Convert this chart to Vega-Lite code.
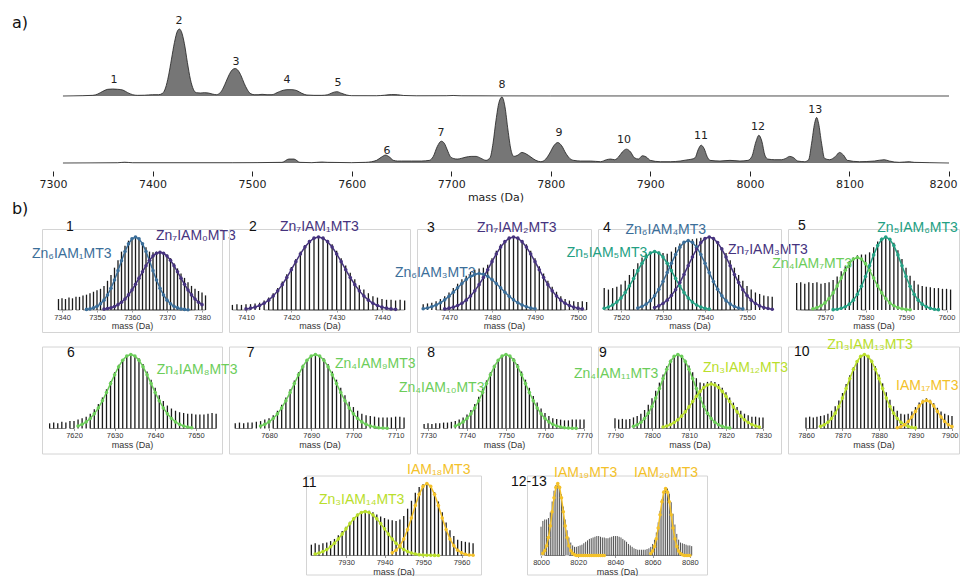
{
"$schema":"https://vega.github.io/schema/vega-lite/v6.json",
"padding":{"left":11,"top":14,"right":0,"bottom":0},
"background":"white",
"bounds":"full",
"spacing":-2,
"config":{
 "font":"Liberation Sans",
 "view":{"stroke":"#d4d4d4","strokeWidth":1},
 "axisX":{"grid":false,"domain":false,"ticks":true,"tickSize":2,"tickColor":"#9a9a9a","labelFont":"Liberation Sans","labelFontSize":7.5,"labelColor":"#333333","labelPadding":1,"titleFont":"Liberation Sans","titleFontSize":9,"titleFontWeight":"normal","titleColor":"#333333","titlePadding":1}
},
"datasets":{
"grp":[{"g":"Zn6IAM1","sp":"Zn6"},{"g":"Zn7IAM0","sp":"Zn7"},{"g":"Zn7IAM1","sp":"Zn7"},{"g":"Zn7IAM2","sp":"Zn7"},{"g":"Zn6IAM3","sp":"Zn6"},{"g":"Zn5IAM5","sp":"Zn5"},{"g":"Zn6IAM4","sp":"Zn6"},{"g":"Zn7IAM3","sp":"Zn7"},{"g":"Zn4IAM7","sp":"Zn4"},{"g":"Zn5IAM6","sp":"Zn5"},{"g":"Zn4IAM8","sp":"Zn4"},{"g":"Zn4IAM9","sp":"Zn4"},{"g":"Zn4IAM10","sp":"Zn4"},{"g":"Zn4IAM11","sp":"Zn4"},{"g":"Zn3IAM12","sp":"Zn3"},{"g":"Zn3IAM13","sp":"Zn3"},{"g":"IAM17","sp":"Zn0"},{"g":"Zn3IAM14","sp":"Zn3"},{"g":"IAM18","sp":"Zn0"},{"g":"IAM19","sp":"Zn0"},{"g":"IAM20","sp":"Zn0"}],
"a":[
{"t":"T","m":7310,"v":0},{"t":"T","m":7330,"v":0.005},{"t":"T","m":7340,"v":0.01},{"t":"T","m":7345,"v":0.03},{"t":"T","m":7350,"v":0.07},{"t":"T","m":7355,"v":0.1},{"t":"T","m":7360,"v":0.105},{"t":"T","m":7365,"v":0.1},{"t":"T","m":7370,"v":0.09},{"t":"T","m":7375,"v":0.05},{"t":"T","m":7380,"v":0.02},{"t":"T","m":7385,"v":0.01},{"t":"T","m":7392,"v":0.012},{"t":"T","m":7400,"v":0.02},{"t":"T","m":7406,"v":0.02},{"t":"T","m":7410,"v":0.04},{"t":"T","m":7413,"v":0.12},{"t":"T","m":7416,"v":0.3},{"t":"T","m":7419,"v":0.55},{"t":"T","m":7422,"v":0.8},{"t":"T","m":7425,"v":0.97},{"t":"T","m":7427,"v":1},{"t":"T","m":7429,"v":0.96},{"t":"T","m":7432,"v":0.78},{"t":"T","m":7435,"v":0.5},{"t":"T","m":7438,"v":0.25},{"t":"T","m":7441,"v":0.1},{"t":"T","m":7444,"v":0.05},{"t":"T","m":7448,"v":0.045},{"t":"T","m":7452,"v":0.05},{"t":"T","m":7456,"v":0.045},{"t":"T","m":7460,"v":0.03},{"t":"T","m":7464,"v":0.02},{"t":"T","m":7468,"v":0.05},{"t":"T","m":7471,"v":0.12},{"t":"T","m":7474,"v":0.22},{"t":"T","m":7477,"v":0.32},{"t":"T","m":7480,"v":0.39},{"t":"T","m":7483,"v":0.41},{"t":"T","m":7486,"v":0.38},{"t":"T","m":7489,"v":0.3},{"t":"T","m":7492,"v":0.19},{"t":"T","m":7495,"v":0.1},{"t":"T","m":7498,"v":0.04},{"t":"T","m":7502,"v":0.02},{"t":"T","m":7506,"v":0.02},{"t":"T","m":7510,"v":0.025},{"t":"T","m":7515,"v":0.02},{"t":"T","m":7520,"v":0.02},{"t":"T","m":7525,"v":0.05},{"t":"T","m":7530,"v":0.08},{"t":"T","m":7535,"v":0.095},{"t":"T","m":7540,"v":0.095},{"t":"T","m":7545,"v":0.08},{"t":"T","m":7550,"v":0.04},{"t":"T","m":7555,"v":0.015},{"t":"T","m":7562,"v":0.01},{"t":"T","m":7570,"v":0.01},{"t":"T","m":7576,"v":0.02},{"t":"T","m":7580,"v":0.045},{"t":"T","m":7585,"v":0.065},{"t":"T","m":7590,"v":0.04},{"t":"T","m":7595,"v":0.015},{"t":"T","m":7600,"v":0.005},{"t":"T","m":7625,"v":0.004},{"t":"T","m":7633,"v":0.012},{"t":"T","m":7640,"v":0.022},{"t":"T","m":7646,"v":0.02},{"t":"T","m":7652,"v":0.008},{"t":"T","m":7665,"v":0.003},{"t":"T","m":7695,"v":0.004},{"t":"T","m":7702,"v":0.008},{"t":"T","m":7710,"v":0.003},{"t":"T","m":7750,"v":0.002},{"t":"T","m":7800,"v":0.001},{"t":"T","m":8200,"v":0},
{"t":"B","m":7310,"v":0},{"t":"B","m":7365,"v":0.004},{"t":"B","m":7372,"v":0.012},{"t":"B","m":7380,"v":0.004},{"t":"B","m":7480,"v":0.004},{"t":"B","m":7530,"v":0.01},{"t":"B","m":7537,"v":0.06},{"t":"B","m":7542,"v":0.06},{"t":"B","m":7548,"v":0.01},{"t":"B","m":7560,"v":0.005},{"t":"B","m":7570,"v":0.015},{"t":"B","m":7576,"v":0.01},{"t":"B","m":7600,"v":0.005},{"t":"B","m":7614,"v":0.01},{"t":"B","m":7620,"v":0.02},{"t":"B","m":7625,"v":0.04},{"t":"B","m":7630,"v":0.09},{"t":"B","m":7634,"v":0.12},{"t":"B","m":7638,"v":0.09},{"t":"B","m":7642,"v":0.04},{"t":"B","m":7646,"v":0.03},{"t":"B","m":7650,"v":0.03},{"t":"B","m":7660,"v":0.03},{"t":"B","m":7670,"v":0.03},{"t":"B","m":7678,"v":0.04},{"t":"B","m":7682,"v":0.1},{"t":"B","m":7686,"v":0.25},{"t":"B","m":7690,"v":0.33},{"t":"B","m":7693,"v":0.3},{"t":"B","m":7696,"v":0.2},{"t":"B","m":7699,"v":0.1},{"t":"B","m":7702,"v":0.07},{"t":"B","m":7706,"v":0.06},{"t":"B","m":7710,"v":0.07},{"t":"B","m":7715,"v":0.09},{"t":"B","m":7720,"v":0.1},{"t":"B","m":7725,"v":0.1},{"t":"B","m":7730,"v":0.07},{"t":"B","m":7735,"v":0.04},{"t":"B","m":7739,"v":0.08},{"t":"B","m":7742,"v":0.3},{"t":"B","m":7745,"v":0.65},{"t":"B","m":7748,"v":0.92},{"t":"B","m":7751,"v":1},{"t":"B","m":7754,"v":0.85},{"t":"B","m":7757,"v":0.5},{"t":"B","m":7760,"v":0.2},{"t":"B","m":7763,"v":0.1},{"t":"B","m":7767,"v":0.12},{"t":"B","m":7771,"v":0.16},{"t":"B","m":7775,"v":0.14},{"t":"B","m":7780,"v":0.09},{"t":"B","m":7785,"v":0.04},{"t":"B","m":7790,"v":0.02},{"t":"B","m":7795,"v":0.06},{"t":"B","m":7799,"v":0.15},{"t":"B","m":7803,"v":0.26},{"t":"B","m":7807,"v":0.31},{"t":"B","m":7811,"v":0.26},{"t":"B","m":7815,"v":0.15},{"t":"B","m":7819,"v":0.07},{"t":"B","m":7823,"v":0.04},{"t":"B","m":7830,"v":0.03},{"t":"B","m":7840,"v":0.03},{"t":"B","m":7850,"v":0.02},{"t":"B","m":7856,"v":0.05},{"t":"B","m":7860,"v":0.06},{"t":"B","m":7864,"v":0.05},{"t":"B","m":7868,"v":0.09},{"t":"B","m":7872,"v":0.17},{"t":"B","m":7876,"v":0.21},{"t":"B","m":7880,"v":0.17},{"t":"B","m":7884,"v":0.08},{"t":"B","m":7888,"v":0.06},{"t":"B","m":7892,"v":0.11},{"t":"B","m":7896,"v":0.09},{"t":"B","m":7900,"v":0.04},{"t":"B","m":7910,"v":0.02},{"t":"B","m":7920,"v":0.02},{"t":"B","m":7930,"v":0.03},{"t":"B","m":7938,"v":0.05},{"t":"B","m":7942,"v":0.06},{"t":"B","m":7945,"v":0.08},{"t":"B","m":7948,"v":0.2},{"t":"B","m":7951,"v":0.27},{"t":"B","m":7954,"v":0.22},{"t":"B","m":7957,"v":0.1},{"t":"B","m":7960,"v":0.04},{"t":"B","m":7970,"v":0.03},{"t":"B","m":7980,"v":0.04},{"t":"B","m":7990,"v":0.03},{"t":"B","m":7998,"v":0.04},{"t":"B","m":8002,"v":0.1},{"t":"B","m":8006,"v":0.32},{"t":"B","m":8009,"v":0.42},{"t":"B","m":8012,"v":0.33},{"t":"B","m":8015,"v":0.12},{"t":"B","m":8018,"v":0.06},{"t":"B","m":8025,"v":0.05},{"t":"B","m":8032,"v":0.05},{"t":"B","m":8036,"v":0.07},{"t":"B","m":8040,"v":0.1},{"t":"B","m":8044,"v":0.08},{"t":"B","m":8048,"v":0.03},{"t":"B","m":8055,"v":0.02},{"t":"B","m":8059,"v":0.05},{"t":"B","m":8062,"v":0.3},{"t":"B","m":8065,"v":0.6},{"t":"B","m":8067,"v":0.69},{"t":"B","m":8069,"v":0.6},{"t":"B","m":8072,"v":0.3},{"t":"B","m":8075,"v":0.07},{"t":"B","m":8080,"v":0.05},{"t":"B","m":8086,"v":0.1},{"t":"B","m":8090,"v":0.16},{"t":"B","m":8094,"v":0.12},{"t":"B","m":8098,"v":0.04},{"t":"B","m":8110,"v":0.02},{"t":"B","m":8125,"v":0.03},{"t":"B","m":8135,"v":0.05},{"t":"B","m":8140,"v":0.03},{"t":"B","m":8150,"v":0.01},{"t":"B","m":8160,"v":0.02},{"t":"B","m":8165,"v":0.01},{"t":"B","m":8180,"v":0.005},{"t":"B","m":8200,"v":0}
],
"al":[
{"t":"T","n":"1","m":7361.3,"v":0.239},{"t":"T","n":"2","m":7426.6,"v":1.119},{"t":"T","n":"3","m":7483.8,"v":0.507},{"t":"T","n":"4","m":7535,"v":0.239},{"t":"T","n":"5","m":7586.3,"v":0.194},
{"t":"B","n":"6","m":7635.5,"v":0.182},{"t":"B","n":"7","m":7689.7,"v":0.455},{"t":"B","n":"8","m":7751,"v":1.182},{"t":"B","n":"9","m":7808.2,"v":0.455},{"t":"B","n":"10","m":7873.6,"v":0.348},{"t":"B","n":"11","m":7950.9,"v":0.409},{"t":"B","n":"12","m":8008.1,"v":0.545},{"t":"B","n":"13","m":8065.7,"v":0.803},
{"t":"S","n":"a)","m":7258.8,"v":1.09}
],
"ax":[{"m":7300,"m2":8200}],
"bl":[
{"p":1,"t":"1","sp":"num","m":7341.14,"y":1.137},{"p":1,"t":"Zn₆IAM₁MT3","sp":"Zn6","m":7331.43,"y":0.767},{"p":1,"t":"Zn₇IAM₀MT3","sp":"Zn7","m":7366.86,"y":1.014},{"p":1,"t":"b)","sp":"sec","m":7325.71,"y":1.384},
{"p":2,"t":"2","sp":"num","m":7410.66,"y":1.137},{"p":2,"t":"Zn₇IAM₁MT3","sp":"Zn7","m":7417.5,"y":1.137},
{"p":3,"t":"3","sp":"num","m":7464.88,"y":1.123},{"p":3,"t":"Zn₇IAM₂MT3","sp":"Zn7","m":7476.51,"y":1.123},{"p":3,"t":"Zn₆IAM₃MT3","sp":"Zn6","m":7457.44,"y":0.507},
{"p":4,"t":"4","sp":"num","m":7515.71,"y":1.123},{"p":4,"t":"Zn₆IAM₄MT3","sp":"Zn6","m":7521.07,"y":1.096},{"p":4,"t":"Zn₅IAM₅MT3","sp":"Zn5","m":7507.07,"y":0.774},{"p":4,"t":"Zn₇IAM₃MT3","sp":"Zn7","m":7545.48,"y":0.822},
{"p":5,"t":"5","sp":"num","m":7563.33,"y":1.155},{"p":5,"t":"Zn₅IAM₆MT3","sp":"Zn5","m":7582.91,"y":1.123},{"p":5,"t":"Zn₄IAM₇MT3","sp":"Zn4","m":7556.99,"y":0.63},
{"p":6,"t":"6","sp":"num","m":7618.28,"y":1.027},{"p":6,"t":"Zn₄IAM₈MT3","sp":"Zn4","m":7640.37,"y":0.797},
{"p":7,"t":"7","sp":"num","m":7674.72,"y":1.027},{"p":7,"t":"Zn₄IAM₉MT3","sp":"Zn4","m":7695.64,"y":0.878},
{"p":8,"t":"8","sp":"num","m":7729.82,"y":1.027},{"p":8,"t":"Zn₄IAM₁₀MT3","sp":"Zn4","m":7722.56,"y":0.554},
{"p":9,"t":"9","sp":"num","m":7785.68,"y":1.027},{"p":9,"t":"Zn₄IAM₁₁MT3","sp":"Zn4","m":7778.92,"y":0.73},{"p":9,"t":"Zn₃IAM₁₂MT3","sp":"Zn3","m":7813.78,"y":0.811},
{"p":10,"t":"10","sp":"num","m":7856.71,"y":1.04},{"p":10,"t":"Zn₃IAM₁₃MT3","sp":"Zn3","m":7865.84,"y":1.135},{"p":10,"t":"IAM₁₇MT3","sp":"Zn0","m":7884.66,"y":0.581},
{"p":11,"t":"11","sp":"num","m":7918.57,"y":1.0},{"p":11,"t":"Zn₃IAM₁₄MT3","sp":"Zn3","m":7922.99,"y":0.764},{"p":11,"t":"IAM₁₈MT3","sp":"Zn0","m":7945.84,"y":1.181},
{"p":12,"t":"12-13","sp":"num","m":7983.87,"y":1.014},{"p":12,"t":"IAM₁₉MT3","sp":"Zn0","m":8006.99,"y":1.139},{"p":12,"t":"IAM₂₀MT3","sp":"Zn0","m":8050.0,"y":1.139}
],
"b":[
{"p":1,"m":7339,"s":0.15},{"p":1,"m":7340,"s":0.16},{"p":1,"m":7341,"s":0.15},{"p":1,"m":7342,"s":0.17},{"p":1,"m":7343,"s":0.16},{"p":1,"m":7344,"s":0.18},{"p":1,"m":7345,"s":0.18},{"p":1,"m":7346,"s":0.2},
{"p":1,"m":7347,"s":0.21,"Zn6IAM1":0.008},{"p":1,"m":7348,"s":0.23,"Zn6IAM1":0.015},{"p":1,"m":7349,"s":0.25,"Zn6IAM1":0.029},{"p":1,"m":7350,"s":0.27,"Zn6IAM1":0.05},{"p":1,"m":7351,"s":0.29,"Zn6IAM1":0.085},
{"p":1,"m":7352,"s":0.33,"Zn6IAM1":0.135,"Zn7IAM0":0.012},{"p":1,"m":7353,"s":0.4,"Zn6IAM1":0.206,"Zn7IAM0":0.02},{"p":1,"m":7354,"s":0.48,"Zn6IAM1":0.298,"Zn7IAM0":0.031},{"p":1,"m":7355,"s":0.58,"Zn6IAM1":0.411,"Zn7IAM0":0.048},{"p":1,"m":7356,"s":0.68,"Zn6IAM1":0.539,"Zn7IAM0":0.073},{"p":1,"m":7357,"s":0.8,"Zn6IAM1":0.674,"Zn7IAM0":0.107},{"p":1,"m":7358,"s":0.88,"Zn6IAM1":0.801,"Zn7IAM0":0.151},{"p":1,"m":7359,"s":0.95,"Zn6IAM1":0.906,"Zn7IAM0":0.207},{"p":1,"m":7360,"s":0.99,"Zn6IAM1":0.976,"Zn7IAM0":0.274},{"p":1,"m":7361,"s":1,"Zn6IAM1":1,"Zn7IAM0":0.352},{"p":1,"m":7362,"s":0.98,"Zn6IAM1":0.976,"Zn7IAM0":0.436},{"p":1,"m":7363,"s":0.92,"Zn6IAM1":0.906,"Zn7IAM0":0.523},{"p":1,"m":7364,"s":0.86,"Zn6IAM1":0.801,"Zn7IAM0":0.607},{"p":1,"m":7365,"s":0.8,"Zn6IAM1":0.674,"Zn7IAM0":0.681},{"p":1,"m":7366,"s":0.79,"Zn6IAM1":0.539,"Zn7IAM0":0.739},{"p":1,"m":7367,"s":0.8,"Zn6IAM1":0.411,"Zn7IAM0":0.777},{"p":1,"m":7368,"s":0.8,"Zn6IAM1":0.298,"Zn7IAM0":0.79},{"p":1,"m":7369,"s":0.79,"Zn6IAM1":0.206,"Zn7IAM0":0.777},{"p":1,"m":7370,"s":0.76,"Zn6IAM1":0.135,"Zn7IAM0":0.739},{"p":1,"m":7371,"s":0.71,"Zn6IAM1":0.085,"Zn7IAM0":0.681},{"p":1,"m":7372,"s":0.64,"Zn6IAM1":0.05,"Zn7IAM0":0.607},{"p":1,"m":7373,"s":0.57,"Zn6IAM1":0.029,"Zn7IAM0":0.523},{"p":1,"m":7374,"s":0.5,"Zn6IAM1":0.015,"Zn7IAM0":0.436},{"p":1,"m":7375,"s":0.44,"Zn6IAM1":0.008,"Zn7IAM0":0.352},{"p":1,"m":7376,"s":0.38,"Zn6IAM1":0.004,"Zn7IAM0":0.274},{"p":1,"m":7377,"s":0.33,"Zn7IAM0":0.207},{"p":1,"m":7378,"s":0.29,"Zn7IAM0":0.151},{"p":1,"m":7379,"s":0.26,"Zn7IAM0":0.107},{"p":1,"m":7380,"s":0.24,"Zn7IAM0":0.073},{"p":1,"m":7381,"s":0.2},
{"p":2,"m":7407,"s":0.07},{"p":2,"m":7408,"s":0.08},{"p":2,"m":7409,"s":0.07},{"p":2,"m":7410,"s":0.08,"Zn7IAM1":0.015},{"p":2,"m":7411,"s":0.08,"Zn7IAM1":0.025},{"p":2,"m":7412,"s":0.09,"Zn7IAM1":0.039},{"p":2,"m":7413,"s":0.1,"Zn7IAM1":0.061},{"p":2,"m":7414,"s":0.13,"Zn7IAM1":0.092},{"p":2,"m":7415,"s":0.17,"Zn7IAM1":0.135},{"p":2,"m":7416,"s":0.23,"Zn7IAM1":0.191},{"p":2,"m":7417,"s":0.3,"Zn7IAM1":0.262},{"p":2,"m":7418,"s":0.39,"Zn7IAM1":0.347},{"p":2,"m":7419,"s":0.49,"Zn7IAM1":0.445},{"p":2,"m":7420,"s":0.59,"Zn7IAM1":0.552},{"p":2,"m":7421,"s":0.7,"Zn7IAM1":0.662},{"p":2,"m":7422,"s":0.8,"Zn7IAM1":0.768},{"p":2,"m":7423,"s":0.89,"Zn7IAM1":0.862},{"p":2,"m":7424,"s":0.96,"Zn7IAM1":0.936},{"p":2,"m":7425,"s":0.99,"Zn7IAM1":0.984},{"p":2,"m":7426,"s":1,"Zn7IAM1":1},{"p":2,"m":7427,"s":0.99,"Zn7IAM1":0.984},{"p":2,"m":7428,"s":0.96,"Zn7IAM1":0.936},{"p":2,"m":7429,"s":0.9,"Zn7IAM1":0.862},{"p":2,"m":7430,"s":0.81,"Zn7IAM1":0.768},{"p":2,"m":7431,"s":0.71,"Zn7IAM1":0.662},{"p":2,"m":7432,"s":0.61,"Zn7IAM1":0.552},{"p":2,"m":7433,"s":0.51,"Zn7IAM1":0.445},{"p":2,"m":7434,"s":0.42,"Zn7IAM1":0.347},{"p":2,"m":7435,"s":0.34,"Zn7IAM1":0.262},{"p":2,"m":7436,"s":0.28,"Zn7IAM1":0.191},{"p":2,"m":7437,"s":0.23,"Zn7IAM1":0.135},{"p":2,"m":7438,"s":0.19,"Zn7IAM1":0.092},{"p":2,"m":7439,"s":0.17,"Zn7IAM1":0.061},{"p":2,"m":7440,"s":0.15,"Zn7IAM1":0.039},{"p":2,"m":7441,"s":0.14,"Zn7IAM1":0.025},{"p":2,"m":7442,"s":0.14,"Zn7IAM1":0.015},{"p":2,"m":7443,"s":0.13,"Zn7IAM1":0.009},{"p":2,"m":7444,"s":0.14},{"p":2,"m":7445,"s":0.13},
{"p":3,"m":7464,"s":0.08,"Zn6IAM3":0.017},{"p":3,"m":7465,"s":0.09,"Zn6IAM3":0.028},{"p":3,"m":7466,"s":0.1,"Zn6IAM3":0.045},{"p":3,"m":7467,"s":0.12,"Zn6IAM3":0.068},{"p":3,"m":7468,"s":0.15,"Zn6IAM3":0.099},{"p":3,"m":7469,"s":0.19,"Zn6IAM3":0.139,"Zn7IAM2":0.015},{"p":3,"m":7470,"s":0.24,"Zn6IAM3":0.188,"Zn7IAM2":0.025},{"p":3,"m":7471,"s":0.3,"Zn6IAM3":0.244,"Zn7IAM2":0.039},{"p":3,"m":7472,"s":0.36,"Zn6IAM3":0.304,"Zn7IAM2":0.061},{"p":3,"m":7473,"s":0.42,"Zn6IAM3":0.363,"Zn7IAM2":0.092},{"p":3,"m":7474,"s":0.47,"Zn6IAM3":0.418,"Zn7IAM2":0.135},{"p":3,"m":7475,"s":0.52,"Zn6IAM3":0.462,"Zn7IAM2":0.191},{"p":3,"m":7476,"s":0.55,"Zn6IAM3":0.49,"Zn7IAM2":0.262},{"p":3,"m":7477,"s":0.57,"Zn6IAM3":0.5,"Zn7IAM2":0.347},{"p":3,"m":7478,"s":0.58,"Zn6IAM3":0.49,"Zn7IAM2":0.445},{"p":3,"m":7479,"s":0.62,"Zn6IAM3":0.462,"Zn7IAM2":0.552},{"p":3,"m":7480,"s":0.71,"Zn6IAM3":0.418,"Zn7IAM2":0.662},{"p":3,"m":7481,"s":0.81,"Zn6IAM3":0.363,"Zn7IAM2":0.768},{"p":3,"m":7482,"s":0.9,"Zn6IAM3":0.304,"Zn7IAM2":0.862},{"p":3,"m":7483,"s":0.96,"Zn6IAM3":0.244,"Zn7IAM2":0.936},{"p":3,"m":7484,"s":0.99,"Zn6IAM3":0.188,"Zn7IAM2":0.984},{"p":3,"m":7485,"s":1,"Zn6IAM3":0.139,"Zn7IAM2":1},{"p":3,"m":7486,"s":0.99,"Zn6IAM3":0.099,"Zn7IAM2":0.984},{"p":3,"m":7487,"s":0.96,"Zn6IAM3":0.068,"Zn7IAM2":0.936},{"p":3,"m":7488,"s":0.9,"Zn6IAM3":0.045,"Zn7IAM2":0.862},{"p":3,"m":7489,"s":0.81,"Zn6IAM3":0.028,"Zn7IAM2":0.768},{"p":3,"m":7490,"s":0.71,"Zn6IAM3":0.017,"Zn7IAM2":0.662},{"p":3,"m":7491,"s":0.6,"Zn7IAM2":0.552},{"p":3,"m":7492,"s":0.5,"Zn7IAM2":0.445},{"p":3,"m":7493,"s":0.4,"Zn7IAM2":0.347},{"p":3,"m":7494,"s":0.32,"Zn7IAM2":0.262},{"p":3,"m":7495,"s":0.25,"Zn7IAM2":0.191},{"p":3,"m":7496,"s":0.19,"Zn7IAM2":0.135},{"p":3,"m":7497,"s":0.15,"Zn7IAM2":0.092},{"p":3,"m":7498,"s":0.13,"Zn7IAM2":0.061},{"p":3,"m":7499,"s":0.12,"Zn7IAM2":0.039},{"p":3,"m":7500,"s":0.11,"Zn7IAM2":0.025},{"p":3,"m":7501,"s":0.12,"Zn7IAM2":0.015},{"p":3,"m":7502,"s":0.11},
{"p":4,"m":7516,"s":0.3,"Zn5IAM5":0.023},{"p":4,"m":7517,"s":0.28,"Zn5IAM5":0.04},{"p":4,"m":7518,"s":0.3,"Zn5IAM5":0.068},{"p":4,"m":7519,"s":0.32,"Zn5IAM5":0.108},{"p":4,"m":7520,"s":0.35,"Zn5IAM5":0.165},{"p":4,"m":7521,"s":0.4,"Zn5IAM5":0.238},{"p":4,"m":7522,"s":0.48,"Zn5IAM5":0.329},{"p":4,"m":7523,"s":0.56,"Zn5IAM5":0.431},{"p":4,"m":7524,"s":0.64,"Zn5IAM5":0.539,"Zn6IAM4":0.028},{"p":4,"m":7525,"s":0.72,"Zn5IAM5":0.641,"Zn6IAM4":0.048},{"p":4,"m":7526,"s":0.77,"Zn5IAM5":0.725,"Zn6IAM4":0.081},{"p":4,"m":7527,"s":0.8,"Zn5IAM5":0.781,"Zn6IAM4":0.128},{"p":4,"m":7528,"s":0.8,"Zn5IAM5":0.8,"Zn6IAM4":0.196,"Zn7IAM3":0.034},{"p":4,"m":7529,"s":0.8,"Zn5IAM5":0.781,"Zn6IAM4":0.283,"Zn7IAM3":0.056},{"p":4,"m":7530,"s":0.78,"Zn5IAM5":0.725,"Zn6IAM4":0.39,"Zn7IAM3":0.089},{"p":4,"m":7531,"s":0.77,"Zn5IAM5":0.641,"Zn6IAM4":0.512,"Zn7IAM3":0.135},{"p":4,"m":7532,"s":0.8,"Zn5IAM5":0.539,"Zn6IAM4":0.64,"Zn7IAM3":0.198},{"p":4,"m":7533,"s":0.86,"Zn5IAM5":0.431,"Zn6IAM4":0.761,"Zn7IAM3":0.278},{"p":4,"m":7534,"s":0.91,"Zn5IAM5":0.329,"Zn6IAM4":0.861,"Zn7IAM3":0.375},{"p":4,"m":7535,"s":0.94,"Zn5IAM5":0.238,"Zn6IAM4":0.927,"Zn7IAM3":0.487},{"p":4,"m":7536,"s":0.96,"Zn5IAM5":0.165,"Zn6IAM4":0.95,"Zn7IAM3":0.607},{"p":4,"m":7537,"s":0.97,"Zn5IAM5":0.108,"Zn6IAM4":0.927,"Zn7IAM3":0.726},{"p":4,"m":7538,"s":0.98,"Zn5IAM5":0.068,"Zn6IAM4":0.861,"Zn7IAM3":0.835},{"p":4,"m":7539,"s":0.99,"Zn5IAM5":0.04,"Zn6IAM4":0.761,"Zn7IAM3":0.923},{"p":4,"m":7540,"s":1,"Zn5IAM5":0.023,"Zn6IAM4":0.64,"Zn7IAM3":0.98},{"p":4,"m":7541,"s":1,"Zn5IAM5":0.012,"Zn6IAM4":0.512,"Zn7IAM3":1},{"p":4,"m":7542,"s":0.98,"Zn6IAM4":0.39,"Zn7IAM3":0.98},{"p":4,"m":7543,"s":0.93,"Zn6IAM4":0.283,"Zn7IAM3":0.923},{"p":4,"m":7544,"s":0.86,"Zn6IAM4":0.196,"Zn7IAM3":0.835},{"p":4,"m":7545,"s":0.78,"Zn6IAM4":0.128,"Zn7IAM3":0.726},{"p":4,"m":7546,"s":0.68,"Zn6IAM4":0.081,"Zn7IAM3":0.607},{"p":4,"m":7547,"s":0.58,"Zn6IAM4":0.048,"Zn7IAM3":0.487},{"p":4,"m":7548,"s":0.48,"Zn6IAM4":0.028,"Zn7IAM3":0.375},{"p":4,"m":7549,"s":0.4,"Zn6IAM4":0.015,"Zn7IAM3":0.278},{"p":4,"m":7550,"s":0.33,"Zn7IAM3":0.198},{"p":4,"m":7551,"s":0.28,"Zn7IAM3":0.135},{"p":4,"m":7552,"s":0.24,"Zn7IAM3":0.089},{"p":4,"m":7553,"s":0.22,"Zn7IAM3":0.056},{"p":4,"m":7554,"s":0.2,"Zn7IAM3":0.034},{"p":4,"m":7555,"s":0.19,"Zn7IAM3":0.02},{"p":4,"m":7556,"s":0.18,"Zn7IAM3":0.011},
{"p":5,"m":7563,"s":0.37},{"p":5,"m":7564,"s":0.38},{"p":5,"m":7565,"s":0.36},{"p":5,"m":7566,"s":0.38},{"p":5,"m":7567,"s":0.37,"Zn4IAM7":0.017},{"p":5,"m":7568,"s":0.38,"Zn4IAM7":0.032},{"p":5,"m":7569,"s":0.36,"Zn4IAM7":0.058},{"p":5,"m":7570,"s":0.37,"Zn4IAM7":0.097},{"p":5,"m":7571,"s":0.38,"Zn4IAM7":0.156},{"p":5,"m":7572,"s":0.41,"Zn4IAM7":0.234,"Zn5IAM6":0.005},{"p":5,"m":7573,"s":0.46,"Zn4IAM7":0.33,"Zn5IAM6":0.011},{"p":5,"m":7574,"s":0.53,"Zn4IAM7":0.437,"Zn5IAM6":0.023},{"p":5,"m":7575,"s":0.6,"Zn4IAM7":0.544,"Zn5IAM6":0.044},{"p":5,"m":7576,"s":0.67,"Zn4IAM7":0.635,"Zn5IAM6":0.08},{"p":5,"m":7577,"s":0.72,"Zn4IAM7":0.698,"Zn5IAM6":0.135},{"p":5,"m":7578,"s":0.75,"Zn4IAM7":0.72,"Zn5IAM6":0.216},{"p":5,"m":7579,"s":0.76,"Zn4IAM7":0.698,"Zn5IAM6":0.325},{"p":5,"m":7580,"s":0.76,"Zn4IAM7":0.635,"Zn5IAM6":0.458},{"p":5,"m":7581,"s":0.79,"Zn4IAM7":0.544,"Zn5IAM6":0.607},{"p":5,"m":7582,"s":0.86,"Zn4IAM7":0.437,"Zn5IAM6":0.755},{"p":5,"m":7583,"s":0.94,"Zn4IAM7":0.33,"Zn5IAM6":0.882},{"p":5,"m":7584,"s":0.99,"Zn4IAM7":0.234,"Zn5IAM6":0.969},{"p":5,"m":7585,"s":1,"Zn4IAM7":0.156,"Zn5IAM6":1},{"p":5,"m":7586,"s":0.98,"Zn4IAM7":0.097,"Zn5IAM6":0.969},{"p":5,"m":7587,"s":0.92,"Zn4IAM7":0.058,"Zn5IAM6":0.882},{"p":5,"m":7588,"s":0.82,"Zn4IAM7":0.032,"Zn5IAM6":0.755},{"p":5,"m":7589,"s":0.7,"Zn4IAM7":0.017,"Zn5IAM6":0.607},{"p":5,"m":7590,"s":0.58,"Zn4IAM7":0.008,"Zn5IAM6":0.458},{"p":5,"m":7591,"s":0.47,"Zn4IAM7":0.004,"Zn5IAM6":0.325},{"p":5,"m":7592,"s":0.4,"Zn5IAM6":0.216},{"p":5,"m":7593,"s":0.35,"Zn5IAM6":0.135},{"p":5,"m":7594,"s":0.33,"Zn5IAM6":0.08},{"p":5,"m":7595,"s":0.32,"Zn5IAM6":0.044},{"p":5,"m":7596,"s":0.31,"Zn5IAM6":0.023},{"p":5,"m":7597,"s":0.3,"Zn5IAM6":0.011},{"p":5,"m":7598,"s":0.3,"Zn5IAM6":0.005},{"p":5,"m":7599,"s":0.29},{"p":5,"m":7600,"s":0.29},{"p":5,"m":7601,"s":0.28},
{"p":6,"m":7614,"s":0.07},{"p":6,"m":7615,"s":0.08},{"p":6,"m":7616,"s":0.07},{"p":6,"m":7617,"s":0.09},{"p":6,"m":7618,"s":0.08},{"p":6,"m":7619,"s":0.1},{"p":6,"m":7620,"s":0.1},{"p":6,"m":7621,"s":0.12,"Zn4IAM8":0.034},{"p":6,"m":7622,"s":0.14,"Zn4IAM8":0.056},{"p":6,"m":7623,"s":0.16,"Zn4IAM8":0.089},{"p":6,"m":7624,"s":0.2,"Zn4IAM8":0.135},{"p":6,"m":7625,"s":0.26,"Zn4IAM8":0.198},{"p":6,"m":7626,"s":0.33,"Zn4IAM8":0.278},{"p":6,"m":7627,"s":0.42,"Zn4IAM8":0.375},{"p":6,"m":7628,"s":0.53,"Zn4IAM8":0.487},{"p":6,"m":7629,"s":0.64,"Zn4IAM8":0.607},{"p":6,"m":7630,"s":0.76,"Zn4IAM8":0.726},{"p":6,"m":7631,"s":0.86,"Zn4IAM8":0.835},{"p":6,"m":7632,"s":0.94,"Zn4IAM8":0.923},{"p":6,"m":7633,"s":0.99,"Zn4IAM8":0.98},{"p":6,"m":7634,"s":1,"Zn4IAM8":1},{"p":6,"m":7635,"s":0.99,"Zn4IAM8":0.98},{"p":6,"m":7636,"s":0.95,"Zn4IAM8":0.923},{"p":6,"m":7637,"s":0.87,"Zn4IAM8":0.835},{"p":6,"m":7638,"s":0.77,"Zn4IAM8":0.726},{"p":6,"m":7639,"s":0.66,"Zn4IAM8":0.607},{"p":6,"m":7640,"s":0.55,"Zn4IAM8":0.487},{"p":6,"m":7641,"s":0.45,"Zn4IAM8":0.375},{"p":6,"m":7642,"s":0.37,"Zn4IAM8":0.278},{"p":6,"m":7643,"s":0.31,"Zn4IAM8":0.198},{"p":6,"m":7644,"s":0.27,"Zn4IAM8":0.135},{"p":6,"m":7645,"s":0.24,"Zn4IAM8":0.089},{"p":6,"m":7646,"s":0.22,"Zn4IAM8":0.056},{"p":6,"m":7647,"s":0.21,"Zn4IAM8":0.034},{"p":6,"m":7648,"s":0.2,"Zn4IAM8":0.02},{"p":6,"m":7649,"s":0.2,"Zn4IAM8":0.011},{"p":6,"m":7650,"s":0.19},{"p":6,"m":7651,"s":0.19},{"p":6,"m":7652,"s":0.19},{"p":6,"m":7653,"s":0.2},{"p":6,"m":7654,"s":0.21},{"p":6,"m":7655,"s":0.2},
{"p":7,"m":7672,"s":0.07},{"p":7,"m":7673,"s":0.08},{"p":7,"m":7674,"s":0.07},{"p":7,"m":7675,"s":0.08},{"p":7,"m":7676,"s":0.08},{"p":7,"m":7677,"s":0.09},{"p":7,"m":7678,"s":0.1,"Zn4IAM9":0.034},{"p":7,"m":7679,"s":0.12,"Zn4IAM9":0.056},{"p":7,"m":7680,"s":0.14,"Zn4IAM9":0.089},{"p":7,"m":7681,"s":0.18,"Zn4IAM9":0.135},{"p":7,"m":7682,"s":0.24,"Zn4IAM9":0.198},{"p":7,"m":7683,"s":0.32,"Zn4IAM9":0.278},{"p":7,"m":7684,"s":0.42,"Zn4IAM9":0.375},{"p":7,"m":7685,"s":0.53,"Zn4IAM9":0.487},{"p":7,"m":7686,"s":0.65,"Zn4IAM9":0.607},{"p":7,"m":7687,"s":0.76,"Zn4IAM9":0.726},{"p":7,"m":7688,"s":0.86,"Zn4IAM9":0.835},{"p":7,"m":7689,"s":0.94,"Zn4IAM9":0.923},{"p":7,"m":7690,"s":0.99,"Zn4IAM9":0.98},{"p":7,"m":7691,"s":1,"Zn4IAM9":1},{"p":7,"m":7692,"s":0.99,"Zn4IAM9":0.98},{"p":7,"m":7693,"s":0.95,"Zn4IAM9":0.923},{"p":7,"m":7694,"s":0.87,"Zn4IAM9":0.835},{"p":7,"m":7695,"s":0.77,"Zn4IAM9":0.726},{"p":7,"m":7696,"s":0.66,"Zn4IAM9":0.607},{"p":7,"m":7697,"s":0.55,"Zn4IAM9":0.487},{"p":7,"m":7698,"s":0.45,"Zn4IAM9":0.375},{"p":7,"m":7699,"s":0.36,"Zn4IAM9":0.278},{"p":7,"m":7700,"s":0.29,"Zn4IAM9":0.198},{"p":7,"m":7701,"s":0.24,"Zn4IAM9":0.135},{"p":7,"m":7702,"s":0.2,"Zn4IAM9":0.089},{"p":7,"m":7703,"s":0.18,"Zn4IAM9":0.056},{"p":7,"m":7704,"s":0.17,"Zn4IAM9":0.034},{"p":7,"m":7705,"s":0.16,"Zn4IAM9":0.02},{"p":7,"m":7706,"s":0.15,"Zn4IAM9":0.011},{"p":7,"m":7707,"s":0.15,"Zn4IAM9":0.006},{"p":7,"m":7708,"s":0.15,"Zn4IAM9":0.003},{"p":7,"m":7709,"s":0.15},{"p":7,"m":7710,"s":0.16},{"p":7,"m":7711,"s":0.16},{"p":7,"m":7712,"s":0.15},
{"p":8,"m":7729,"s":0.06},{"p":8,"m":7730,"s":0.07},{"p":8,"m":7731,"s":0.06},{"p":8,"m":7732,"s":0.07},{"p":8,"m":7733,"s":0.07},{"p":8,"m":7734,"s":0.08},{"p":8,"m":7735,"s":0.08},{"p":8,"m":7736,"s":0.09},{"p":8,"m":7737,"s":0.1,"Zn4IAM10":0.034},{"p":8,"m":7738,"s":0.12,"Zn4IAM10":0.056},{"p":8,"m":7739,"s":0.15,"Zn4IAM10":0.089},{"p":8,"m":7740,"s":0.19,"Zn4IAM10":0.135},{"p":8,"m":7741,"s":0.25,"Zn4IAM10":0.198},{"p":8,"m":7742,"s":0.33,"Zn4IAM10":0.278},{"p":8,"m":7743,"s":0.43,"Zn4IAM10":0.375},{"p":8,"m":7744,"s":0.54,"Zn4IAM10":0.487},{"p":8,"m":7745,"s":0.65,"Zn4IAM10":0.607},{"p":8,"m":7746,"s":0.76,"Zn4IAM10":0.726},{"p":8,"m":7747,"s":0.86,"Zn4IAM10":0.835},{"p":8,"m":7748,"s":0.94,"Zn4IAM10":0.923},{"p":8,"m":7749,"s":0.99,"Zn4IAM10":0.98},{"p":8,"m":7750,"s":1,"Zn4IAM10":1},{"p":8,"m":7751,"s":0.99,"Zn4IAM10":0.98},{"p":8,"m":7752,"s":0.95,"Zn4IAM10":0.923},{"p":8,"m":7753,"s":0.87,"Zn4IAM10":0.835},{"p":8,"m":7754,"s":0.77,"Zn4IAM10":0.726},{"p":8,"m":7755,"s":0.66,"Zn4IAM10":0.607},{"p":8,"m":7756,"s":0.55,"Zn4IAM10":0.487},{"p":8,"m":7757,"s":0.44,"Zn4IAM10":0.375},{"p":8,"m":7758,"s":0.35,"Zn4IAM10":0.278},{"p":8,"m":7759,"s":0.27,"Zn4IAM10":0.198},{"p":8,"m":7760,"s":0.21,"Zn4IAM10":0.135},{"p":8,"m":7761,"s":0.17,"Zn4IAM10":0.089},{"p":8,"m":7762,"s":0.14,"Zn4IAM10":0.056},{"p":8,"m":7763,"s":0.13,"Zn4IAM10":0.034},{"p":8,"m":7764,"s":0.12,"Zn4IAM10":0.02},{"p":8,"m":7765,"s":0.11,"Zn4IAM10":0.011},{"p":8,"m":7766,"s":0.11,"Zn4IAM10":0.006},{"p":8,"m":7767,"s":0.12,"Zn4IAM10":0.003},{"p":8,"m":7768,"s":0.12,"Zn4IAM10":0.002},{"p":8,"m":7769,"s":0.12},{"p":8,"m":7770,"s":0.12},
{"p":9,"m":7790,"s":0.14},{"p":9,"m":7791,"s":0.12},{"p":9,"m":7792,"s":0.13},{"p":9,"m":7793,"s":0.12},{"p":9,"m":7794,"s":0.13},{"p":9,"m":7795,"s":0.15,"Zn4IAM11":0.029},{"p":9,"m":7796,"s":0.17,"Zn4IAM11":0.05},{"p":9,"m":7797,"s":0.2,"Zn4IAM11":0.085},{"p":9,"m":7798,"s":0.25,"Zn4IAM11":0.135},{"p":9,"m":7799,"s":0.32,"Zn4IAM11":0.206},{"p":9,"m":7800,"s":0.41,"Zn4IAM11":0.298},{"p":9,"m":7801,"s":0.51,"Zn4IAM11":0.411},{"p":9,"m":7802,"s":0.62,"Zn4IAM11":0.539},{"p":9,"m":7803,"s":0.73,"Zn4IAM11":0.674,"Zn3IAM12":0.02},{"p":9,"m":7804,"s":0.84,"Zn4IAM11":0.801,"Zn3IAM12":0.034},{"p":9,"m":7805,"s":0.93,"Zn4IAM11":0.906,"Zn3IAM12":0.053},{"p":9,"m":7806,"s":0.98,"Zn4IAM11":0.976,"Zn3IAM12":0.081},{"p":9,"m":7807,"s":1,"Zn4IAM11":1,"Zn3IAM12":0.119},{"p":9,"m":7808,"s":0.98,"Zn4IAM11":0.976,"Zn3IAM12":0.167},{"p":9,"m":7809,"s":0.93,"Zn4IAM11":0.906,"Zn3IAM12":0.225},{"p":9,"m":7810,"s":0.85,"Zn4IAM11":0.801,"Zn3IAM12":0.292},{"p":9,"m":7811,"s":0.76,"Zn4IAM11":0.674,"Zn3IAM12":0.364},{"p":9,"m":7812,"s":0.68,"Zn4IAM11":0.539,"Zn3IAM12":0.436},{"p":9,"m":7813,"s":0.62,"Zn4IAM11":0.411,"Zn3IAM12":0.501},{"p":9,"m":7814,"s":0.61,"Zn4IAM11":0.298,"Zn3IAM12":0.554},{"p":9,"m":7815,"s":0.63,"Zn4IAM11":0.206,"Zn3IAM12":0.588},{"p":9,"m":7816,"s":0.64,"Zn4IAM11":0.135,"Zn3IAM12":0.6},{"p":9,"m":7817,"s":0.63,"Zn4IAM11":0.085,"Zn3IAM12":0.588},{"p":9,"m":7818,"s":0.6,"Zn4IAM11":0.05,"Zn3IAM12":0.554},{"p":9,"m":7819,"s":0.55,"Zn4IAM11":0.029,"Zn3IAM12":0.501},{"p":9,"m":7820,"s":0.49,"Zn4IAM11":0.015,"Zn3IAM12":0.436},{"p":9,"m":7821,"s":0.42,"Zn4IAM11":0.008,"Zn3IAM12":0.364},{"p":9,"m":7822,"s":0.35,"Zn3IAM12":0.292},{"p":9,"m":7823,"s":0.29,"Zn3IAM12":0.225},{"p":9,"m":7824,"s":0.24,"Zn3IAM12":0.167},{"p":9,"m":7825,"s":0.2,"Zn3IAM12":0.119},{"p":9,"m":7826,"s":0.18,"Zn3IAM12":0.081},{"p":9,"m":7827,"s":0.16,"Zn3IAM12":0.053},{"p":9,"m":7828,"s":0.16,"Zn3IAM12":0.034},{"p":9,"m":7829,"s":0.15,"Zn3IAM12":0.02},{"p":9,"m":7830,"s":0.15},
{"p":10,"m":7860,"s":0.15},{"p":10,"m":7861,"s":0.16},{"p":10,"m":7862,"s":0.15},{"p":10,"m":7863,"s":0.16},{"p":10,"m":7864,"s":0.17,"Zn3IAM13":0.029},{"p":10,"m":7865,"s":0.18,"Zn3IAM13":0.05},{"p":10,"m":7866,"s":0.2,"Zn3IAM13":0.085},{"p":10,"m":7867,"s":0.24,"Zn3IAM13":0.135},{"p":10,"m":7868,"s":0.3,"Zn3IAM13":0.206},{"p":10,"m":7869,"s":0.38,"Zn3IAM13":0.298},{"p":10,"m":7870,"s":0.48,"Zn3IAM13":0.411},{"p":10,"m":7871,"s":0.6,"Zn3IAM13":0.539},{"p":10,"m":7872,"s":0.72,"Zn3IAM13":0.674},{"p":10,"m":7873,"s":0.83,"Zn3IAM13":0.801},{"p":10,"m":7874,"s":0.92,"Zn3IAM13":0.906},{"p":10,"m":7875,"s":0.98,"Zn3IAM13":0.976},{"p":10,"m":7876,"s":1,"Zn3IAM13":1},{"p":10,"m":7877,"s":0.98,"Zn3IAM13":0.976},{"p":10,"m":7878,"s":0.93,"Zn3IAM13":0.906},{"p":10,"m":7879,"s":0.84,"Zn3IAM13":0.801},{"p":10,"m":7880,"s":0.73,"Zn3IAM13":0.674},{"p":10,"m":7881,"s":0.61,"Zn3IAM13":0.539},{"p":10,"m":7882,"s":0.49,"Zn3IAM13":0.411},{"p":10,"m":7883,"s":0.39,"Zn3IAM13":0.298},{"p":10,"m":7884,"s":0.3,"Zn3IAM13":0.206},{"p":10,"m":7885,"s":0.24,"Zn3IAM13":0.135,"IAM17":0.011},{"p":10,"m":7886,"s":0.2,"Zn3IAM13":0.085,"IAM17":0.025},{"p":10,"m":7887,"s":0.19,"Zn3IAM13":0.05,"IAM17":0.051},{"p":10,"m":7888,"s":0.2,"Zn3IAM13":0.029,"IAM17":0.095},{"p":10,"m":7889,"s":0.23,"Zn3IAM13":0.015,"IAM17":0.156},{"p":10,"m":7890,"s":0.29,"Zn3IAM13":0.008,"IAM17":0.231},{"p":10,"m":7891,"s":0.35,"IAM17":0.304},{"p":10,"m":7892,"s":0.39,"IAM17":0.36},{"p":10,"m":7893,"s":0.41,"IAM17":0.38},{"p":10,"m":7894,"s":0.39,"IAM17":0.36},{"p":10,"m":7895,"s":0.34,"IAM17":0.304},{"p":10,"m":7896,"s":0.28,"IAM17":0.231},{"p":10,"m":7897,"s":0.23,"IAM17":0.156},{"p":10,"m":7898,"s":0.2,"IAM17":0.095},{"p":10,"m":7899,"s":0.18,"IAM17":0.051},{"p":10,"m":7900,"s":0.17,"IAM17":0.025},
{"p":11,"m":7921,"s":0.15},{"p":11,"m":7922,"s":0.17,"Zn3IAM14":0.021},{"p":11,"m":7923,"s":0.15,"Zn3IAM14":0.034},{"p":11,"m":7924,"s":0.17,"Zn3IAM14":0.054},{"p":11,"m":7925,"s":0.18,"Zn3IAM14":0.082},{"p":11,"m":7926,"s":0.2,"Zn3IAM14":0.121},{"p":11,"m":7927,"s":0.23,"Zn3IAM14":0.17},{"p":11,"m":7928,"s":0.28,"Zn3IAM14":0.229},{"p":11,"m":7929,"s":0.34,"Zn3IAM14":0.297},{"p":11,"m":7930,"s":0.4,"Zn3IAM14":0.37},{"p":11,"m":7931,"s":0.47,"Zn3IAM14":0.443},{"p":11,"m":7932,"s":0.53,"Zn3IAM14":0.509},{"p":11,"m":7933,"s":0.58,"Zn3IAM14":0.563},{"p":11,"m":7934,"s":0.61,"Zn3IAM14":0.598},{"p":11,"m":7935,"s":0.62,"Zn3IAM14":0.61},{"p":11,"m":7936,"s":0.62,"Zn3IAM14":0.598},{"p":11,"m":7937,"s":0.6,"Zn3IAM14":0.563},{"p":11,"m":7938,"s":0.57,"Zn3IAM14":0.509},{"p":11,"m":7939,"s":0.54,"Zn3IAM14":0.443},{"p":11,"m":7940,"s":0.52,"Zn3IAM14":0.37},{"p":11,"m":7941,"s":0.5,"Zn3IAM14":0.297},{"p":11,"m":7942,"s":0.49,"Zn3IAM14":0.229,"IAM18":0.037},{"p":11,"m":7943,"s":0.48,"Zn3IAM14":0.17,"IAM18":0.073},{"p":11,"m":7944,"s":0.5,"Zn3IAM14":0.121,"IAM18":0.135},{"p":11,"m":7945,"s":0.55,"Zn3IAM14":0.082,"IAM18":0.23},{"p":11,"m":7946,"s":0.65,"Zn3IAM14":0.054,"IAM18":0.36},{"p":11,"m":7947,"s":0.76,"Zn3IAM14":0.034,"IAM18":0.52},{"p":11,"m":7948,"s":0.87,"Zn3IAM14":0.021,"IAM18":0.693},{"p":11,"m":7949,"s":0.95,"Zn3IAM14":0.012,"IAM18":0.849},{"p":11,"m":7950,"s":0.99,"Zn3IAM14":0.007,"IAM18":0.96},{"p":11,"m":7951,"s":1,"Zn3IAM14":0.004,"IAM18":1},{"p":11,"m":7952,"s":0.97,"Zn3IAM14":0.002,"IAM18":0.96},{"p":11,"m":7953,"s":0.88,"Zn3IAM14":0.001,"IAM18":0.849},{"p":11,"m":7954,"s":0.75,"Zn3IAM14":0,"IAM18":0.693},{"p":11,"m":7955,"s":0.6,"IAM18":0.52},{"p":11,"m":7956,"s":0.46,"IAM18":0.36},{"p":11,"m":7957,"s":0.35,"IAM18":0.23},{"p":11,"m":7958,"s":0.27,"IAM18":0.135},{"p":11,"m":7959,"s":0.22,"IAM18":0.073},{"p":11,"m":7960,"s":0.2,"IAM18":0.037},{"p":11,"m":7961,"s":0.19,"IAM18":0.017},{"p":11,"m":7962,"s":0.18,"IAM18":0.007},{"p":11,"m":7963,"s":0.17,"IAM18":0.003},
{"p":12,"m":8000,"s":0.4},{"p":12,"m":8001,"s":0.48,"IAM19":0.029},{"p":12,"m":8002,"s":0.5,"IAM19":0.066},{"p":12,"m":8003,"s":0.5,"IAM19":0.135},{"p":12,"m":8004,"s":0.52,"IAM19":0.249},{"p":12,"m":8005,"s":0.6,"IAM19":0.411},{"p":12,"m":8006,"s":0.75,"IAM19":0.607},{"p":12,"m":8007,"s":0.9,"IAM19":0.801},{"p":12,"m":8008,"s":0.98,"IAM19":0.946},{"p":12,"m":8009,"s":1,"IAM19":1},{"p":12,"m":8010,"s":0.96,"IAM19":0.946},{"p":12,"m":8011,"s":0.85,"IAM19":0.801},{"p":12,"m":8012,"s":0.68,"IAM19":0.607},{"p":12,"m":8013,"s":0.5,"IAM19":0.411},{"p":12,"m":8014,"s":0.35,"IAM19":0.249},{"p":12,"m":8015,"s":0.25,"IAM19":0.135},{"p":12,"m":8016,"s":0.18,"IAM19":0.066},{"p":12,"m":8017,"s":0.14,"IAM19":0.029},{"p":12,"m":8018,"s":0.12,"IAM19":0.011},{"p":12,"m":8019,"s":0.12,"IAM19":0},{"p":12,"m":8020,"s":0.13,"IAM19":0},{"p":12,"m":8021,"s":0.14,"IAM19":0},{"p":12,"m":8022,"s":0.15,"IAM19":0},{"p":12,"m":8023,"s":0.17,"IAM19":0},{"p":12,"m":8024,"s":0.19,"IAM19":0},{"p":12,"m":8025,"s":0.21,"IAM19":0},{"p":12,"m":8026,"s":0.23,"IAM19":0},{"p":12,"m":8027,"s":0.24,"IAM19":0},{"p":12,"m":8028,"s":0.25,"IAM19":0},{"p":12,"m":8029,"s":0.26,"IAM19":0},{"p":12,"m":8030,"s":0.27,"IAM19":0},{"p":12,"m":8031,"s":0.27,"IAM19":0},{"p":12,"m":8032,"s":0.26,"IAM19":0},{"p":12,"m":8033,"s":0.25,"IAM19":0},{"p":12,"m":8034,"s":0.25,"IAM19":0},{"p":12,"m":8035,"s":0.24},{"p":12,"m":8036,"s":0.24},{"p":12,"m":8037,"s":0.25},{"p":12,"m":8038,"s":0.26},{"p":12,"m":8039,"s":0.27},{"p":12,"m":8040,"s":0.27},{"p":12,"m":8041,"s":0.27},{"p":12,"m":8042,"s":0.26},{"p":12,"m":8043,"s":0.25},{"p":12,"m":8044,"s":0.23},{"p":12,"m":8045,"s":0.21},{"p":12,"m":8046,"s":0.19},{"p":12,"m":8047,"s":0.16},{"p":12,"m":8048,"s":0.14},{"p":12,"m":8049,"s":0.12},{"p":12,"m":8050,"s":0.1},{"p":12,"m":8051,"s":0.09},{"p":12,"m":8052,"s":0.08},{"p":12,"m":8053,"s":0.08},{"p":12,"m":8054,"s":0.08},{"p":12,"m":8055,"s":0.08},{"p":12,"m":8056,"s":0.08},{"p":12,"m":8057,"s":0.09},{"p":12,"m":8058,"s":0.1},{"p":12,"m":8059,"s":0.12,"IAM20":0.027},{"p":12,"m":8060,"s":0.16,"IAM20":0.061},{"p":12,"m":8061,"s":0.22,"IAM20":0.126},{"p":12,"m":8062,"s":0.32,"IAM20":0.232},{"p":12,"m":8063,"s":0.46,"IAM20":0.382},{"p":12,"m":8064,"s":0.62,"IAM20":0.565},{"p":12,"m":8065,"s":0.78,"IAM20":0.745},{"p":12,"m":8066,"s":0.89,"IAM20":0.88},{"p":12,"m":8067,"s":0.94,"IAM20":0.93},{"p":12,"m":8068,"s":0.93,"IAM20":0.88},{"p":12,"m":8069,"s":0.86,"IAM20":0.745},{"p":12,"m":8070,"s":0.74,"IAM20":0.565},{"p":12,"m":8071,"s":0.58,"IAM20":0.382},{"p":12,"m":8072,"s":0.43,"IAM20":0.232},{"p":12,"m":8073,"s":0.3,"IAM20":0.126},{"p":12,"m":8074,"s":0.22,"IAM20":0.061},{"p":12,"m":8075,"s":0.18,"IAM20":0.027},{"p":12,"m":8076,"s":0.17,"IAM20":0.01},{"p":12,"m":8077,"s":0.16,"IAM20":0},{"p":12,"m":8078,"s":0.15,"IAM20":0},{"p":12,"m":8079,"s":0.14,"IAM20":0},{"p":12,"m":8080,"s":0.14,"IAM20":0},{"p":12,"m":8081,"s":0.13}
]
},
"vconcat":[
 {"width":907,"height":155,"view":{"stroke":null},
  "encoding":{"x":{"field":"m","type":"quantitative","scale":{"domain":[7288.95,8200],"nice":false,"zero":false},
   "axis":{"values":[7300,7400,7500,7600,7700,7800,7900,8000,8100,8200],"format":"d","title":"mass (Da)","tickSize":5,"tickColor":"#222222","labelFont":"DejaVu Sans","labelFontSize":11,"labelColor":"#222222","labelPadding":2,"titleFont":"DejaVu Sans","titleFontSize":11,"titleColor":"#222222","titlePadding":2,"labelFlush":1,"labelFlushOffset":8}}},
  "layer":[
   {"encoding":{"y":{"field":"v","type":"quantitative","scale":{"domain":[-1.119,1.194],"nice":false,"zero":false},"axis":null}},
    "layer":[
     {"data":{"name":"a"},"transform":[{"filter":"datum.t=='T'"}],"mark":{"type":"area","interpolate":"monotone","color":"#3c3c3c","line":{"color":"#1e1e1e","strokeWidth":0.8}},"encoding":{"y2":{"datum":0}}},
     {"data":{"name":"al"},"transform":[{"filter":"datum.t=='T'"}],"mark":{"type":"text","font":"DejaVu Sans","fontSize":11,"color":"#222222","baseline":"middle","align":"center"},"encoding":{"text":{"field":"n"}}},
     {"data":{"name":"al"},"transform":[{"filter":"datum.t=='S'"}],"mark":{"type":"text","font":"DejaVu Sans","fontSize":16,"color":"#111111","baseline":"middle","align":"left"},"encoding":{"text":{"field":"n"}}}
    ]},
   {"encoding":{"y":{"field":"v","type":"quantitative","scale":{"domain":[-0.1212,2.227],"nice":false,"zero":false},"axis":null}},
    "layer":[
     {"data":{"name":"a"},"transform":[{"filter":"datum.t=='B'"}],"mark":{"type":"area","interpolate":"monotone","color":"#3c3c3c","line":{"color":"#1e1e1e","strokeWidth":0.8}},"encoding":{"y2":{"datum":0}}},
     {"data":{"name":"al"},"transform":[{"filter":"datum.t=='B'"}],"mark":{"type":"text","font":"DejaVu Sans","fontSize":11,"color":"#222222","baseline":"middle","align":"center"},"encoding":{"text":{"field":"n"}}},
     {"data":{"name":"ax"},"mark":{"type":"rule","color":"#333333","strokeWidth":1},"encoding":{"x2":{"field":"m2"},"y":{"datum":-0.1212}}}
    ]}
  ],
  "resolve":{"scale":{"y":"independent"}}
 },
 {"bounds":"full","spacing":8.5,"vconcat":[
  {"bounds":"full","spacing":3.5,"vconcat":[
   {"bounds":"flush","spacing":7,"hconcat":[
    {"width":180,"height":103,"data":{"name":"b"},"transform":[{"filter":"datum.p==1"}],
     "encoding":{"x":{"field":"m","type":"quantitative","scale":{"domain":[7334.29,7385.71],"nice":false,"zero":false},"axis":{"values":[7340,7350,7360,7370,7380],"format":"d","offset":-22,"title":"mass (Da)"}},"y":{"field":"s","type":"quantitative","scale":{"domain":[-0.3014,1.1096],"nice":false,"zero":false},"axis":null}},
     "layer":[
      {"mark":{"type":"rule","color":"#8c8c8c","strokeWidth":1},"encoding":{"x":{"aggregate":"min","field":"m","type":"quantitative"},"x2":{"aggregate":"max","field":"m"},"y":{"datum":0}}},
      {"mark":{"type":"rule","color":"#1a1a1a","strokeWidth":1.3},"encoding":{"y2":{"datum":0}}},
      {"transform":[{"fold":["Zn6IAM1","Zn7IAM0"],"as":["g","f"]},{"filter":"isValid(datum.f)"},{"lookup":"g","from":{"data":{"name":"grp"},"key":"g","fields":["sp"]}}],"mark":{"type":"line","strokeWidth":1.5},"encoding":{"y":{"field":"f","type":"quantitative"},"detail":{"field":"g","type":"nominal"},"color":{"field":"sp","type":"nominal","scale":{"domain":["Zn7","Zn6","Zn5","Zn4","Zn3","Zn0","num"],"range":["#46337e","#3b6e99","#23a083","#6ccd5a","#b9de2c","#f3c12a","#111111"]},"legend":null}}},
      {"transform":[{"fold":["Zn6IAM1","Zn7IAM0"],"as":["g","f"]},{"filter":"isValid(datum.f)"},{"lookup":"g","from":{"data":{"name":"grp"},"key":"g","fields":["sp"]}}],"mark":{"type":"circle","size":13,"opacity":1},"encoding":{"y":{"field":"f","type":"quantitative"},"color":{"field":"sp","type":"nominal","scale":{"domain":["Zn7","Zn6","Zn5","Zn4","Zn3","Zn0","num"],"range":["#46337e","#3b6e99","#23a083","#6ccd5a","#b9de2c","#f3c12a","#111111"]},"legend":null}}},
      {"data":{"name":"bl"},"transform":[{"filter":"datum.p==1 && datum.sp!='sec'"}],"mark":{"type":"text","align":"left","baseline":"middle","fontSize":14},"encoding":{"y":{"field":"y","type":"quantitative"},"text":{"field":"t"},"color":{"field":"sp","type":"nominal","scale":{"domain":["Zn7","Zn6","Zn5","Zn4","Zn3","Zn0","num"],"range":["#46337e","#3b6e99","#23a083","#6ccd5a","#b9de2c","#f3c12a","#111111"]},"legend":null}}},
      {"data":{"name":"bl"},"transform":[{"filter":"datum.p==1 && datum.sp=='sec'"}],"mark":{"type":"text","align":"left","baseline":"middle","fontSize":16,"font":"DejaVu Sans","color":"#111111"},"encoding":{"y":{"field":"y","type":"quantitative"},"text":{"field":"t"}}}
     ]},
    {"width":181,"height":103,"data":{"name":"b"},"transform":[{"filter":"datum.p==2"}],
     "encoding":{"x":{"field":"m","type":"quantitative","scale":{"domain":[7406.25,7446.18],"nice":false,"zero":false},"axis":{"values":[7410,7420,7430,7440],"format":"d","offset":-22,"title":"mass (Da)"}},"y":{"field":"s","type":"quantitative","scale":{"domain":[-0.3014,1.1096],"nice":false,"zero":false},"axis":null}},
     "layer":[
      {"mark":{"type":"rule","color":"#8c8c8c","strokeWidth":1},"encoding":{"x":{"aggregate":"min","field":"m","type":"quantitative"},"x2":{"aggregate":"max","field":"m"},"y":{"datum":0}}},
      {"mark":{"type":"rule","color":"#1a1a1a","strokeWidth":1.3},"encoding":{"y2":{"datum":0}}},
      {"transform":[{"fold":["Zn7IAM1"],"as":["g","f"]},{"filter":"isValid(datum.f)"},{"lookup":"g","from":{"data":{"name":"grp"},"key":"g","fields":["sp"]}}],"mark":{"type":"line","strokeWidth":1.5},"encoding":{"y":{"field":"f","type":"quantitative"},"detail":{"field":"g","type":"nominal"},"color":{"field":"sp","type":"nominal","scale":{"domain":["Zn7","Zn6","Zn5","Zn4","Zn3","Zn0","num"],"range":["#46337e","#3b6e99","#23a083","#6ccd5a","#b9de2c","#f3c12a","#111111"]},"legend":null}}},
      {"transform":[{"fold":["Zn7IAM1"],"as":["g","f"]},{"filter":"isValid(datum.f)"},{"lookup":"g","from":{"data":{"name":"grp"},"key":"g","fields":["sp"]}}],"mark":{"type":"circle","size":13,"opacity":1},"encoding":{"y":{"field":"f","type":"quantitative"},"color":{"field":"sp","type":"nominal","scale":{"domain":["Zn7","Zn6","Zn5","Zn4","Zn3","Zn0","num"],"range":["#46337e","#3b6e99","#23a083","#6ccd5a","#b9de2c","#f3c12a","#111111"]},"legend":null}}},
      {"data":{"name":"bl"},"transform":[{"filter":"datum.p==2"}],"mark":{"type":"text","align":"left","baseline":"middle","fontSize":14},"encoding":{"y":{"field":"y","type":"quantitative"},"text":{"field":"t"},"color":{"field":"sp","type":"nominal","scale":{"domain":["Zn7","Zn6","Zn5","Zn4","Zn3","Zn0","num"],"range":["#46337e","#3b6e99","#23a083","#6ccd5a","#b9de2c","#f3c12a","#111111"]},"legend":null}}}
     ]},
    {"width":174,"height":103,"data":{"name":"b"},"transform":[{"filter":"datum.p==3"}],
     "encoding":{"x":{"field":"m","type":"quantitative","scale":{"domain":[7462.56,7503.02],"nice":false,"zero":false},"axis":{"values":[7470,7480,7490,7500],"format":"d","offset":-22,"title":"mass (Da)"}},"y":{"field":"s","type":"quantitative","scale":{"domain":[-0.3014,1.1096],"nice":false,"zero":false},"axis":null}},
     "layer":[
      {"mark":{"type":"rule","color":"#8c8c8c","strokeWidth":1},"encoding":{"x":{"aggregate":"min","field":"m","type":"quantitative"},"x2":{"aggregate":"max","field":"m"},"y":{"datum":0}}},
      {"mark":{"type":"rule","color":"#1a1a1a","strokeWidth":1.3},"encoding":{"y2":{"datum":0}}},
      {"transform":[{"fold":["Zn7IAM2","Zn6IAM3"],"as":["g","f"]},{"filter":"isValid(datum.f)"},{"lookup":"g","from":{"data":{"name":"grp"},"key":"g","fields":["sp"]}}],"mark":{"type":"line","strokeWidth":1.5},"encoding":{"y":{"field":"f","type":"quantitative"},"detail":{"field":"g","type":"nominal"},"color":{"field":"sp","type":"nominal","scale":{"domain":["Zn7","Zn6","Zn5","Zn4","Zn3","Zn0","num"],"range":["#46337e","#3b6e99","#23a083","#6ccd5a","#b9de2c","#f3c12a","#111111"]},"legend":null}}},
      {"transform":[{"fold":["Zn7IAM2","Zn6IAM3"],"as":["g","f"]},{"filter":"isValid(datum.f)"},{"lookup":"g","from":{"data":{"name":"grp"},"key":"g","fields":["sp"]}}],"mark":{"type":"circle","size":13,"opacity":1},"encoding":{"y":{"field":"f","type":"quantitative"},"color":{"field":"sp","type":"nominal","scale":{"domain":["Zn7","Zn6","Zn5","Zn4","Zn3","Zn0","num"],"range":["#46337e","#3b6e99","#23a083","#6ccd5a","#b9de2c","#f3c12a","#111111"]},"legend":null}}},
      {"data":{"name":"bl"},"transform":[{"filter":"datum.p==3"}],"mark":{"type":"text","align":"left","baseline":"middle","fontSize":14},"encoding":{"y":{"field":"y","type":"quantitative"},"text":{"field":"t"},"color":{"field":"sp","type":"nominal","scale":{"domain":["Zn7","Zn6","Zn5","Zn4","Zn3","Zn0","num"],"range":["#46337e","#3b6e99","#23a083","#6ccd5a","#b9de2c","#f3c12a","#111111"]},"legend":null}}}
     ]},
    {"width":183,"height":103,"data":{"name":"b"},"transform":[{"filter":"datum.p==4"}],
     "encoding":{"x":{"field":"m","type":"quantitative","scale":{"domain":[7514.52,7558.09],"nice":false,"zero":false},"axis":{"values":[7520,7530,7540,7550],"format":"d","offset":-22,"title":"mass (Da)"}},"y":{"field":"s","type":"quantitative","scale":{"domain":[-0.3014,1.1096],"nice":false,"zero":false},"axis":null}},
     "layer":[
      {"mark":{"type":"rule","color":"#8c8c8c","strokeWidth":1},"encoding":{"x":{"aggregate":"min","field":"m","type":"quantitative"},"x2":{"aggregate":"max","field":"m"},"y":{"datum":0}}},
      {"mark":{"type":"rule","color":"#1a1a1a","strokeWidth":1.3},"encoding":{"y2":{"datum":0}}},
      {"transform":[{"fold":["Zn5IAM5","Zn6IAM4","Zn7IAM3"],"as":["g","f"]},{"filter":"isValid(datum.f)"},{"lookup":"g","from":{"data":{"name":"grp"},"key":"g","fields":["sp"]}}],"mark":{"type":"line","strokeWidth":1.5},"encoding":{"y":{"field":"f","type":"quantitative"},"detail":{"field":"g","type":"nominal"},"color":{"field":"sp","type":"nominal","scale":{"domain":["Zn7","Zn6","Zn5","Zn4","Zn3","Zn0","num"],"range":["#46337e","#3b6e99","#23a083","#6ccd5a","#b9de2c","#f3c12a","#111111"]},"legend":null}}},
      {"transform":[{"fold":["Zn5IAM5","Zn6IAM4","Zn7IAM3"],"as":["g","f"]},{"filter":"isValid(datum.f)"},{"lookup":"g","from":{"data":{"name":"grp"},"key":"g","fields":["sp"]}}],"mark":{"type":"circle","size":13,"opacity":1},"encoding":{"y":{"field":"f","type":"quantitative"},"color":{"field":"sp","type":"nominal","scale":{"domain":["Zn7","Zn6","Zn5","Zn4","Zn3","Zn0","num"],"range":["#46337e","#3b6e99","#23a083","#6ccd5a","#b9de2c","#f3c12a","#111111"]},"legend":null}}},
      {"data":{"name":"bl"},"transform":[{"filter":"datum.p==4"}],"mark":{"type":"text","align":"left","baseline":"middle","fontSize":14},"encoding":{"y":{"field":"y","type":"quantitative"},"text":{"field":"t"},"color":{"field":"sp","type":"nominal","scale":{"domain":["Zn7","Zn6","Zn5","Zn4","Zn3","Zn0","num"],"range":["#46337e","#3b6e99","#23a083","#6ccd5a","#b9de2c","#f3c12a","#111111"]},"legend":null}}}
     ]},
    {"width":171,"height":103,"data":{"name":"b"},"transform":[{"filter":"datum.p==5"}],
     "encoding":{"x":{"field":"m","type":"quantitative","scale":{"domain":[7560.86,7603.08],"nice":false,"zero":false},"axis":{"values":[7570,7580,7590,7600],"format":"d","offset":-22,"title":"mass (Da)"}},"y":{"field":"s","type":"quantitative","scale":{"domain":[-0.3014,1.1096],"nice":false,"zero":false},"axis":null}},
     "layer":[
      {"mark":{"type":"rule","color":"#8c8c8c","strokeWidth":1},"encoding":{"x":{"aggregate":"min","field":"m","type":"quantitative"},"x2":{"aggregate":"max","field":"m"},"y":{"datum":0}}},
      {"mark":{"type":"rule","color":"#1a1a1a","strokeWidth":1.3},"encoding":{"y2":{"datum":0}}},
      {"transform":[{"fold":["Zn4IAM7","Zn5IAM6"],"as":["g","f"]},{"filter":"isValid(datum.f)"},{"lookup":"g","from":{"data":{"name":"grp"},"key":"g","fields":["sp"]}}],"mark":{"type":"line","strokeWidth":1.5},"encoding":{"y":{"field":"f","type":"quantitative"},"detail":{"field":"g","type":"nominal"},"color":{"field":"sp","type":"nominal","scale":{"domain":["Zn7","Zn6","Zn5","Zn4","Zn3","Zn0","num"],"range":["#46337e","#3b6e99","#23a083","#6ccd5a","#b9de2c","#f3c12a","#111111"]},"legend":null}}},
      {"transform":[{"fold":["Zn4IAM7","Zn5IAM6"],"as":["g","f"]},{"filter":"isValid(datum.f)"},{"lookup":"g","from":{"data":{"name":"grp"},"key":"g","fields":["sp"]}}],"mark":{"type":"circle","size":13,"opacity":1},"encoding":{"y":{"field":"f","type":"quantitative"},"color":{"field":"sp","type":"nominal","scale":{"domain":["Zn7","Zn6","Zn5","Zn4","Zn3","Zn0","num"],"range":["#46337e","#3b6e99","#23a083","#6ccd5a","#b9de2c","#f3c12a","#111111"]},"legend":null}}},
      {"data":{"name":"bl"},"transform":[{"filter":"datum.p==5"}],"mark":{"type":"text","align":"left","baseline":"middle","fontSize":14},"encoding":{"y":{"field":"y","type":"quantitative"},"text":{"field":"t"},"color":{"field":"sp","type":"nominal","scale":{"domain":["Zn7","Zn6","Zn5","Zn4","Zn3","Zn0","num"],"range":["#46337e","#3b6e99","#23a083","#6ccd5a","#b9de2c","#f3c12a","#111111"]},"legend":null}}}
     ]}
   ]},
   {"bounds":"flush","spacing":7,"hconcat":[
    {"width":180,"height":107,"data":{"name":"b"},"transform":[{"filter":"datum.p==6"}],
     "encoding":{"x":{"field":"m","type":"quantitative","scale":{"domain":[7612.12,7656.45],"nice":false,"zero":false},"axis":{"values":[7620,7630,7640,7650],"format":"d","offset":-25,"title":"mass (Da)"}},"y":{"field":"s","type":"quantitative","scale":{"domain":[-0.3378,1.1081],"nice":false,"zero":false},"axis":null}},
     "layer":[
      {"mark":{"type":"rule","color":"#8c8c8c","strokeWidth":1},"encoding":{"x":{"aggregate":"min","field":"m","type":"quantitative"},"x2":{"aggregate":"max","field":"m"},"y":{"datum":0}}},
      {"mark":{"type":"rule","color":"#1a1a1a","strokeWidth":1.3},"encoding":{"y2":{"datum":0}}},
      {"transform":[{"fold":["Zn4IAM8"],"as":["g","f"]},{"filter":"isValid(datum.f)"},{"lookup":"g","from":{"data":{"name":"grp"},"key":"g","fields":["sp"]}}],"mark":{"type":"line","strokeWidth":1.5},"encoding":{"y":{"field":"f","type":"quantitative"},"detail":{"field":"g","type":"nominal"},"color":{"field":"sp","type":"nominal","scale":{"domain":["Zn7","Zn6","Zn5","Zn4","Zn3","Zn0","num"],"range":["#46337e","#3b6e99","#23a083","#6ccd5a","#b9de2c","#f3c12a","#111111"]},"legend":null}}},
      {"transform":[{"fold":["Zn4IAM8"],"as":["g","f"]},{"filter":"isValid(datum.f)"},{"lookup":"g","from":{"data":{"name":"grp"},"key":"g","fields":["sp"]}}],"mark":{"type":"circle","size":13,"opacity":1},"encoding":{"y":{"field":"f","type":"quantitative"},"color":{"field":"sp","type":"nominal","scale":{"domain":["Zn7","Zn6","Zn5","Zn4","Zn3","Zn0","num"],"range":["#46337e","#3b6e99","#23a083","#6ccd5a","#b9de2c","#f3c12a","#111111"]},"legend":null}}},
      {"data":{"name":"bl"},"transform":[{"filter":"datum.p==6"}],"mark":{"type":"text","align":"left","baseline":"middle","fontSize":14},"encoding":{"y":{"field":"y","type":"quantitative"},"text":{"field":"t"},"color":{"field":"sp","type":"nominal","scale":{"domain":["Zn7","Zn6","Zn5","Zn4","Zn3","Zn0","num"],"range":["#46337e","#3b6e99","#23a083","#6ccd5a","#b9de2c","#f3c12a","#111111"]},"legend":null}}}
     ]},
    {"width":181,"height":107,"data":{"name":"b"},"transform":[{"filter":"datum.p==7"}],
     "encoding":{"x":{"field":"m","type":"quantitative","scale":{"domain":[7670.52,7713.41],"nice":false,"zero":false},"axis":{"values":[7680,7690,7700,7710],"format":"d","offset":-25,"title":"mass (Da)"}},"y":{"field":"s","type":"quantitative","scale":{"domain":[-0.3378,1.1081],"nice":false,"zero":false},"axis":null}},
     "layer":[
      {"mark":{"type":"rule","color":"#8c8c8c","strokeWidth":1},"encoding":{"x":{"aggregate":"min","field":"m","type":"quantitative"},"x2":{"aggregate":"max","field":"m"},"y":{"datum":0}}},
      {"mark":{"type":"rule","color":"#1a1a1a","strokeWidth":1.3},"encoding":{"y2":{"datum":0}}},
      {"transform":[{"fold":["Zn4IAM9"],"as":["g","f"]},{"filter":"isValid(datum.f)"},{"lookup":"g","from":{"data":{"name":"grp"},"key":"g","fields":["sp"]}}],"mark":{"type":"line","strokeWidth":1.5},"encoding":{"y":{"field":"f","type":"quantitative"},"detail":{"field":"g","type":"nominal"},"color":{"field":"sp","type":"nominal","scale":{"domain":["Zn7","Zn6","Zn5","Zn4","Zn3","Zn0","num"],"range":["#46337e","#3b6e99","#23a083","#6ccd5a","#b9de2c","#f3c12a","#111111"]},"legend":null}}},
      {"transform":[{"fold":["Zn4IAM9"],"as":["g","f"]},{"filter":"isValid(datum.f)"},{"lookup":"g","from":{"data":{"name":"grp"},"key":"g","fields":["sp"]}}],"mark":{"type":"circle","size":13,"opacity":1},"encoding":{"y":{"field":"f","type":"quantitative"},"color":{"field":"sp","type":"nominal","scale":{"domain":["Zn7","Zn6","Zn5","Zn4","Zn3","Zn0","num"],"range":["#46337e","#3b6e99","#23a083","#6ccd5a","#b9de2c","#f3c12a","#111111"]},"legend":null}}},
      {"data":{"name":"bl"},"transform":[{"filter":"datum.p==7"}],"mark":{"type":"text","align":"left","baseline":"middle","fontSize":14},"encoding":{"y":{"field":"y","type":"quantitative"},"text":{"field":"t"},"color":{"field":"sp","type":"nominal","scale":{"domain":["Zn7","Zn6","Zn5","Zn4","Zn3","Zn0","num"],"range":["#46337e","#3b6e99","#23a083","#6ccd5a","#b9de2c","#f3c12a","#111111"]},"legend":null}}}
     ]},
    {"width":174,"height":107,"data":{"name":"b"},"transform":[{"filter":"datum.p==8"}],
     "encoding":{"x":{"field":"m","type":"quantitative","scale":{"domain":[7727.18,7771.8],"nice":false,"zero":false},"axis":{"values":[7730,7740,7750,7760,7770],"format":"d","offset":-25,"title":"mass (Da)"}},"y":{"field":"s","type":"quantitative","scale":{"domain":[-0.3378,1.1081],"nice":false,"zero":false},"axis":null}},
     "layer":[
      {"mark":{"type":"rule","color":"#8c8c8c","strokeWidth":1},"encoding":{"x":{"aggregate":"min","field":"m","type":"quantitative"},"x2":{"aggregate":"max","field":"m"},"y":{"datum":0}}},
      {"mark":{"type":"rule","color":"#1a1a1a","strokeWidth":1.3},"encoding":{"y2":{"datum":0}}},
      {"transform":[{"fold":["Zn4IAM10"],"as":["g","f"]},{"filter":"isValid(datum.f)"},{"lookup":"g","from":{"data":{"name":"grp"},"key":"g","fields":["sp"]}}],"mark":{"type":"line","strokeWidth":1.5},"encoding":{"y":{"field":"f","type":"quantitative"},"detail":{"field":"g","type":"nominal"},"color":{"field":"sp","type":"nominal","scale":{"domain":["Zn7","Zn6","Zn5","Zn4","Zn3","Zn0","num"],"range":["#46337e","#3b6e99","#23a083","#6ccd5a","#b9de2c","#f3c12a","#111111"]},"legend":null}}},
      {"transform":[{"fold":["Zn4IAM10"],"as":["g","f"]},{"filter":"isValid(datum.f)"},{"lookup":"g","from":{"data":{"name":"grp"},"key":"g","fields":["sp"]}}],"mark":{"type":"circle","size":13,"opacity":1},"encoding":{"y":{"field":"f","type":"quantitative"},"color":{"field":"sp","type":"nominal","scale":{"domain":["Zn7","Zn6","Zn5","Zn4","Zn3","Zn0","num"],"range":["#46337e","#3b6e99","#23a083","#6ccd5a","#b9de2c","#f3c12a","#111111"]},"legend":null}}},
      {"data":{"name":"bl"},"transform":[{"filter":"datum.p==8"}],"mark":{"type":"text","align":"left","baseline":"middle","fontSize":14},"encoding":{"y":{"field":"y","type":"quantitative"},"text":{"field":"t"},"color":{"field":"sp","type":"nominal","scale":{"domain":["Zn7","Zn6","Zn5","Zn4","Zn3","Zn0","num"],"range":["#46337e","#3b6e99","#23a083","#6ccd5a","#b9de2c","#f3c12a","#111111"]},"legend":null}}}
     ]},
    {"width":183,"height":107,"data":{"name":"b"},"transform":[{"filter":"datum.p==9"}],
     "encoding":{"x":{"field":"m","type":"quantitative","scale":{"domain":[7785.41,7834.87],"nice":false,"zero":false},"axis":{"values":[7790,7800,7810,7820,7830],"format":"d","offset":-25,"title":"mass (Da)"}},"y":{"field":"s","type":"quantitative","scale":{"domain":[-0.3378,1.1081],"nice":false,"zero":false},"axis":null}},
     "layer":[
      {"mark":{"type":"rule","color":"#8c8c8c","strokeWidth":1},"encoding":{"x":{"aggregate":"min","field":"m","type":"quantitative"},"x2":{"aggregate":"max","field":"m"},"y":{"datum":0}}},
      {"mark":{"type":"rule","color":"#1a1a1a","strokeWidth":1.3},"encoding":{"y2":{"datum":0}}},
      {"transform":[{"fold":["Zn4IAM11","Zn3IAM12"],"as":["g","f"]},{"filter":"isValid(datum.f)"},{"lookup":"g","from":{"data":{"name":"grp"},"key":"g","fields":["sp"]}}],"mark":{"type":"line","strokeWidth":1.5},"encoding":{"y":{"field":"f","type":"quantitative"},"detail":{"field":"g","type":"nominal"},"color":{"field":"sp","type":"nominal","scale":{"domain":["Zn7","Zn6","Zn5","Zn4","Zn3","Zn0","num"],"range":["#46337e","#3b6e99","#23a083","#6ccd5a","#b9de2c","#f3c12a","#111111"]},"legend":null}}},
      {"transform":[{"fold":["Zn4IAM11","Zn3IAM12"],"as":["g","f"]},{"filter":"isValid(datum.f)"},{"lookup":"g","from":{"data":{"name":"grp"},"key":"g","fields":["sp"]}}],"mark":{"type":"circle","size":13,"opacity":1},"encoding":{"y":{"field":"f","type":"quantitative"},"color":{"field":"sp","type":"nominal","scale":{"domain":["Zn7","Zn6","Zn5","Zn4","Zn3","Zn0","num"],"range":["#46337e","#3b6e99","#23a083","#6ccd5a","#b9de2c","#f3c12a","#111111"]},"legend":null}}},
      {"data":{"name":"bl"},"transform":[{"filter":"datum.p==9"}],"mark":{"type":"text","align":"left","baseline":"middle","fontSize":14},"encoding":{"y":{"field":"y","type":"quantitative"},"text":{"field":"t"},"color":{"field":"sp","type":"nominal","scale":{"domain":["Zn7","Zn6","Zn5","Zn4","Zn3","Zn0","num"],"range":["#46337e","#3b6e99","#23a083","#6ccd5a","#b9de2c","#f3c12a","#111111"]},"legend":null}}}
     ]},
    {"width":171,"height":107,"data":{"name":"b"},"transform":[{"filter":"datum.p==10"}],
     "encoding":{"x":{"field":"m","type":"quantitative","scale":{"domain":[7855.07,7901.92],"nice":false,"zero":false},"axis":{"values":[7860,7870,7880,7890,7900],"format":"d","offset":-25,"title":"mass (Da)","labelFlush":8,"labelFlushOffset":6}},"y":{"field":"s","type":"quantitative","scale":{"domain":[-0.3378,1.1081],"nice":false,"zero":false},"axis":null}},
     "layer":[
      {"mark":{"type":"rule","color":"#8c8c8c","strokeWidth":1},"encoding":{"x":{"aggregate":"min","field":"m","type":"quantitative"},"x2":{"aggregate":"max","field":"m"},"y":{"datum":0}}},
      {"mark":{"type":"rule","color":"#1a1a1a","strokeWidth":1.3},"encoding":{"y2":{"datum":0}}},
      {"transform":[{"fold":["Zn3IAM13","IAM17"],"as":["g","f"]},{"filter":"isValid(datum.f)"},{"lookup":"g","from":{"data":{"name":"grp"},"key":"g","fields":["sp"]}}],"mark":{"type":"line","strokeWidth":1.5},"encoding":{"y":{"field":"f","type":"quantitative"},"detail":{"field":"g","type":"nominal"},"color":{"field":"sp","type":"nominal","scale":{"domain":["Zn7","Zn6","Zn5","Zn4","Zn3","Zn0","num"],"range":["#46337e","#3b6e99","#23a083","#6ccd5a","#b9de2c","#f3c12a","#111111"]},"legend":null}}},
      {"transform":[{"fold":["Zn3IAM13","IAM17"],"as":["g","f"]},{"filter":"isValid(datum.f)"},{"lookup":"g","from":{"data":{"name":"grp"},"key":"g","fields":["sp"]}}],"mark":{"type":"circle","size":13,"opacity":1},"encoding":{"y":{"field":"f","type":"quantitative"},"color":{"field":"sp","type":"nominal","scale":{"domain":["Zn7","Zn6","Zn5","Zn4","Zn3","Zn0","num"],"range":["#46337e","#3b6e99","#23a083","#6ccd5a","#b9de2c","#f3c12a","#111111"]},"legend":null}}},
      {"data":{"name":"bl"},"transform":[{"filter":"datum.p==10"}],"mark":{"type":"text","align":"left","baseline":"middle","fontSize":14},"encoding":{"y":{"field":"y","type":"quantitative"},"text":{"field":"t"},"color":{"field":"sp","type":"nominal","scale":{"domain":["Zn7","Zn6","Zn5","Zn4","Zn3","Zn0","num"],"range":["#46337e","#3b6e99","#23a083","#6ccd5a","#b9de2c","#f3c12a","#111111"]},"legend":null}}}
     ]}
   ]}
  ]},
  {"bounds":"flush","spacing":46,"hconcat":[
   {"width":218,"height":99,"view":{"stroke":null},"data":{"values":[{"m":0}]},"mark":{"type":"text","text":"","opacity":0},"encoding":{}},
   {"width":175,"height":99,"data":{"name":"b"},"transform":[{"filter":"datum.p==11"}],
    "encoding":{"x":{"field":"m","type":"quantitative","scale":{"domain":[7919.61,7965.06],"nice":false,"zero":false},"axis":{"values":[7930,7940,7950,7960],"format":"d","offset":-19,"title":"mass (Da)"}},"y":{"field":"s","type":"quantitative","scale":{"domain":[-0.2639,1.1111],"nice":false,"zero":false},"axis":null}},
    "layer":[
     {"mark":{"type":"rule","color":"#8c8c8c","strokeWidth":1},"encoding":{"x":{"aggregate":"min","field":"m","type":"quantitative"},"x2":{"aggregate":"max","field":"m"},"y":{"datum":0}}},
     {"mark":{"type":"rule","color":"#1a1a1a","strokeWidth":1.3},"encoding":{"y2":{"datum":0}}},
     {"transform":[{"fold":["Zn3IAM14","IAM18"],"as":["g","f"]},{"filter":"isValid(datum.f)"},{"lookup":"g","from":{"data":{"name":"grp"},"key":"g","fields":["sp"]}}],"mark":{"type":"line","strokeWidth":1.5},"encoding":{"y":{"field":"f","type":"quantitative"},"detail":{"field":"g","type":"nominal"},"color":{"field":"sp","type":"nominal","scale":{"domain":["Zn7","Zn6","Zn5","Zn4","Zn3","Zn0","num"],"range":["#46337e","#3b6e99","#23a083","#6ccd5a","#b9de2c","#f3c12a","#111111"]},"legend":null}}},
     {"transform":[{"fold":["Zn3IAM14","IAM18"],"as":["g","f"]},{"filter":"isValid(datum.f)"},{"lookup":"g","from":{"data":{"name":"grp"},"key":"g","fields":["sp"]}}],"mark":{"type":"circle","size":13,"opacity":1},"encoding":{"y":{"field":"f","type":"quantitative"},"color":{"field":"sp","type":"nominal","scale":{"domain":["Zn7","Zn6","Zn5","Zn4","Zn3","Zn0","num"],"range":["#46337e","#3b6e99","#23a083","#6ccd5a","#b9de2c","#f3c12a","#111111"]},"legend":null}}},
     {"data":{"name":"bl"},"transform":[{"filter":"datum.p==11"}],"mark":{"type":"text","align":"left","baseline":"middle","fontSize":14},"encoding":{"y":{"field":"y","type":"quantitative"},"text":{"field":"t"},"color":{"field":"sp","type":"nominal","scale":{"domain":["Zn7","Zn6","Zn5","Zn4","Zn3","Zn0","num"],"range":["#46337e","#3b6e99","#23a083","#6ccd5a","#b9de2c","#f3c12a","#111111"]},"legend":null}}}
    ]},
   {"width":180,"height":99,"data":{"name":"b"},"transform":[{"filter":"datum.p==12"}],
    "encoding":{"x":{"field":"m","type":"quantitative","scale":{"domain":[7992.47,8089.24],"nice":false,"zero":false},"axis":{"values":[8000,8020,8040,8060,8080],"format":"d","offset":-19,"title":"mass (Da)"}},"y":{"field":"s","type":"quantitative","scale":{"domain":[-0.2639,1.1111],"nice":false,"zero":false},"axis":null}},
    "layer":[
     {"mark":{"type":"rule","color":"#8c8c8c","strokeWidth":1},"encoding":{"x":{"aggregate":"min","field":"m","type":"quantitative"},"x2":{"aggregate":"max","field":"m"},"y":{"datum":0}}},
     {"mark":{"type":"rule","color":"#1a1a1a","strokeWidth":0.9,"opacity":0.85},"encoding":{"y2":{"datum":0}}},
     {"transform":[{"fold":["IAM19","IAM20"],"as":["g","f"]},{"filter":"isValid(datum.f)"},{"lookup":"g","from":{"data":{"name":"grp"},"key":"g","fields":["sp"]}}],"mark":{"type":"line","strokeWidth":1.5},"encoding":{"y":{"field":"f","type":"quantitative"},"detail":{"field":"g","type":"nominal"},"color":{"field":"sp","type":"nominal","scale":{"domain":["Zn7","Zn6","Zn5","Zn4","Zn3","Zn0","num"],"range":["#46337e","#3b6e99","#23a083","#6ccd5a","#b9de2c","#f3c12a","#111111"]},"legend":null}}},
     {"transform":[{"fold":["IAM19","IAM20"],"as":["g","f"]},{"filter":"isValid(datum.f)"},{"lookup":"g","from":{"data":{"name":"grp"},"key":"g","fields":["sp"]}}],"mark":{"type":"circle","size":13,"opacity":1},"encoding":{"y":{"field":"f","type":"quantitative"},"color":{"field":"sp","type":"nominal","scale":{"domain":["Zn7","Zn6","Zn5","Zn4","Zn3","Zn0","num"],"range":["#46337e","#3b6e99","#23a083","#6ccd5a","#b9de2c","#f3c12a","#111111"]},"legend":null}}},
     {"data":{"name":"bl"},"transform":[{"filter":"datum.p==12"}],"mark":{"type":"text","align":"left","baseline":"middle","fontSize":14},"encoding":{"y":{"field":"y","type":"quantitative"},"text":{"field":"t"},"color":{"field":"sp","type":"nominal","scale":{"domain":["Zn7","Zn6","Zn5","Zn4","Zn3","Zn0","num"],"range":["#46337e","#3b6e99","#23a083","#6ccd5a","#b9de2c","#f3c12a","#111111"]},"legend":null}}}
    ]}
  ]}
 ]}
]
}
